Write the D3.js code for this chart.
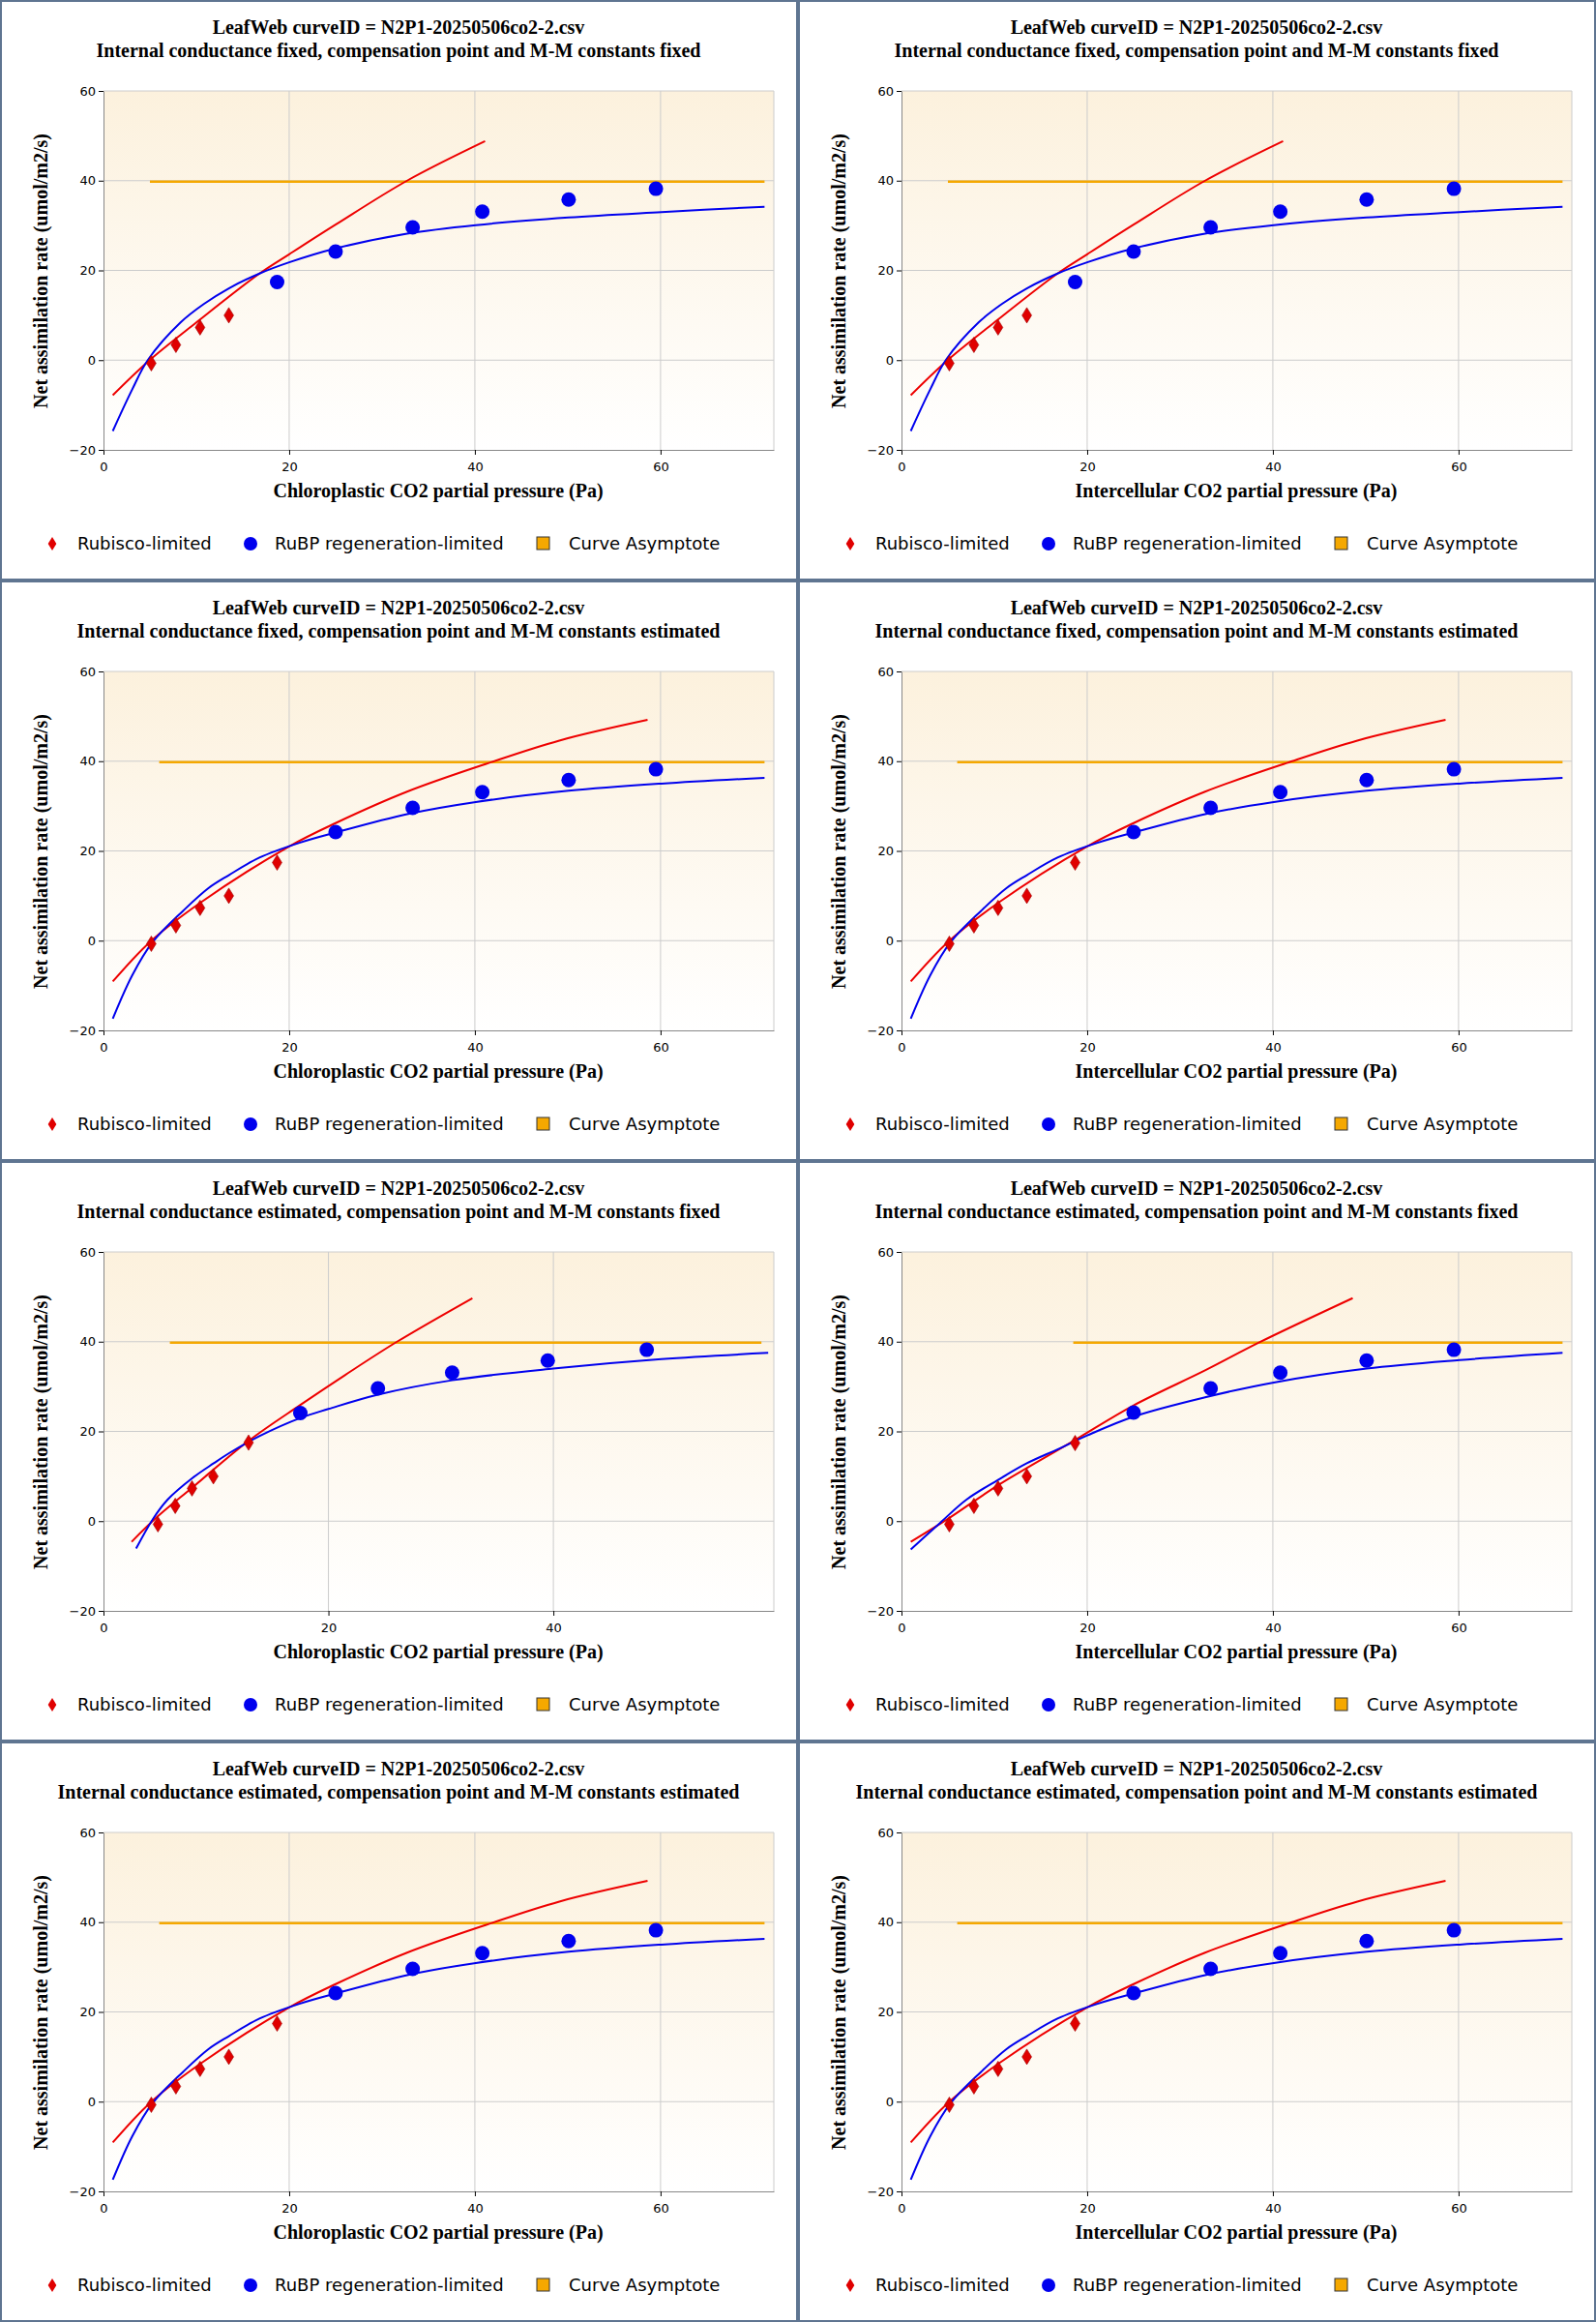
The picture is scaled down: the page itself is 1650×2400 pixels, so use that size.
<!DOCTYPE html>
<html><head><meta charset="utf-8">
<script src="https://cdn.jsdelivr.net/npm/d3@7"></script>
<style>body{margin:0;background:#fff}</style>
</head><body>
<script>
var PW = 825, PH = 600
var curveId = 'LeafWeb curveID = N2P1-20250506co2-2.csv'
var yTicks = [-20, 0, 20, 40, 60]
var legendLabels = ['Rubisco-limited', 'RuBP regeneration-limited', 'Curve Asymptote']

// dataset A: gm fixed, Gamma* and Kc/Ko fixed
var rubiscoA = [[5.15, -0.7], [7.8, 3.4], [10.4, 7.3], [13.5, 10.0]]
var rubpA = [[18.7, 17.4], [25.0, 24.2], [33.3, 29.6], [40.8, 33.1], [50.1, 35.8], [59.5, 38.2]]
var redLineA = [[1.0, -7.8], [4.8, -0.3], [10, 8.4], [16.8, 19.3], [20, 23.6], [25, 30.2], [32.7, 40], [41.1, 48.8]]
var blueLineA = [[1.0, -15.8], [3.1, -6.5], [4.8, 0.1], [8.3, 8.4], [10.8, 12.5], [13.5, 16], [16.8, 19.3], [20, 21.8], [25, 24.9], [32.7, 28.2], [40.1, 30.1], [50.1, 31.8], [60.1, 33], [71.2, 34.2]]
var asymA = [5.0, 71.2, 39.8]

// dataset B: gm fixed, constants estimated
var rubiscoB = [[5.15, -0.7], [7.8, 3.4], [10.4, 7.3], [13.5, 10.0], [18.7, 17.4]]
var rubpB = [[25.0, 24.2], [33.3, 29.6], [40.8, 33.1], [50.1, 35.8], [59.5, 38.2]]
var redLineB = [[1.0, -9.1], [5, -0.3], [10.4, 8.4], [20, 21.0], [25, 26.2], [32.7, 33.2], [41.5, 39.6], [49.1, 44.6], [58.6, 49.2]]
var blueLineB = [[1.0, -17.4], [3.1, -7.7], [5.3, -0.3], [8.6, 6.7], [11.3, 11.7], [13.5, 14.6], [16.8, 18.5], [21.1, 21.8], [25, 24.1], [32.7, 28.2], [40.1, 30.9], [50.1, 33.4], [60.1, 35], [71.2, 36.3]]
var asymB = [6.0, 71.2, 39.8]

// dataset C: gm estimated, chloroplastic
var rubiscoC = [[4.84, -0.7], [6.38, 3.4], [7.87, 7.3], [9.77, 10.0], [12.9, 17.5]]
var rubpC = [[17.5, 24.1], [24.4, 29.6], [31.0, 33.1], [39.5, 35.8], [48.3, 38.2]]
var redLineC = [[2.5, -4.6], [4.8, 1.0], [7.9, 7.5], [12.9, 17.9], [17.5, 25.9], [21.5, 32.6], [26.1, 40], [32.8, 49.7]]
var blueLineC = [[2.9, -6.1], [4.4, 0.5], [5.7, 4.8], [7.9, 9.6], [9.8, 12.9], [11.2, 15.2], [13.9, 19.0], [17.5, 23], [20, 25.0], [24.4, 28.2], [31, 31.4], [40, 34], [49.6, 36.1], [59.1, 37.5]]
var asymC = [5.9, 58.5, 39.8]

// dataset D: gm estimated, intercellular
var rubiscoD = [[5.15, -0.7], [7.8, 3.4], [10.4, 7.3], [13.5, 10.0], [18.7, 17.4]]
var rubpD = [[25.0, 24.2], [33.3, 29.6], [40.8, 33.1], [50.1, 35.8], [59.5, 38.2]]
var redLineD = [[1.0, -4.6], [5, 0.5], [10.4, 8], [18.7, 18.1], [25, 25.8], [32.7, 33.6], [38.5, 39.8], [48.6, 49.7]]
var blueLineD = [[1.0, -6.3], [4.2, -0.3], [7, 4.8], [10.4, 9.2], [13.5, 12.9], [16.8, 16], [20, 19.1], [25, 23.3], [32.7, 27.6], [40.1, 30.9], [50.1, 34], [60.1, 35.9], [71.2, 37.5]]
var asymD = [18.5, 71.2, 39.8]

var sets = {
  A: {rub: rubiscoA, rbp: rubpA, red: redLineA, blue: blueLineA, asym: asymA, xmax: 72.2, xticks: [0, 20, 40, 60]},
  B: {rub: rubiscoB, rbp: rubpB, red: redLineB, blue: blueLineB, asym: asymB, xmax: 72.2, xticks: [0, 20, 40, 60]},
  C: {rub: rubiscoC, rbp: rubpC, red: redLineC, blue: blueLineC, asym: asymC, xmax: 59.6, xticks: [0, 20, 40]},
  D: {rub: rubiscoD, rbp: rubpD, red: redLineD, blue: blueLineD, asym: asymD, xmax: 72.2, xticks: [0, 20, 40, 60]}
}

var panels = [
  {set: 'A', sub: 'Internal conductance fixed, compensation point and M-M constants fixed', xl: 'Chloroplastic CO2 partial pressure (Pa)'},
  {set: 'A', sub: 'Internal conductance fixed, compensation point and M-M constants fixed', xl: 'Intercellular CO2 partial pressure (Pa)'},
  {set: 'B', sub: 'Internal conductance fixed, compensation point and M-M constants estimated', xl: 'Chloroplastic CO2 partial pressure (Pa)'},
  {set: 'B', sub: 'Internal conductance fixed, compensation point and M-M constants estimated', xl: 'Intercellular CO2 partial pressure (Pa)'},
  {set: 'C', sub: 'Internal conductance estimated, compensation point and M-M constants fixed', xl: 'Chloroplastic CO2 partial pressure (Pa)'},
  {set: 'D', sub: 'Internal conductance estimated, compensation point and M-M constants fixed', xl: 'Intercellular CO2 partial pressure (Pa)'},
  {set: 'B', sub: 'Internal conductance estimated, compensation point and M-M constants estimated', xl: 'Chloroplastic CO2 partial pressure (Pa)'},
  {set: 'B', sub: 'Internal conductance estimated, compensation point and M-M constants estimated', xl: 'Intercellular CO2 partial pressure (Pa)'}
]

var m = {left: 107, right: 25, top: 94, bottom: 135}
var serif = "'Liberation Serif', 'DejaVu Serif', serif"
var sans = "'DejaVu Sans', Verdana, sans-serif"

var svg = d3.select('body').append('svg')
    .attr('width', PW * 2).attr('height', PH * 4)

var grad = svg.append('defs').append('linearGradient')
    .attr('id', 'bg').attr('x1', 0).attr('y1', 0).attr('x2', 0).attr('y2', 1)
grad.append('stop').attr('offset', '0%').attr('stop-color', '#fcf1dd')
grad.append('stop').attr('offset', '100%').attr('stop-color', '#ffffff')

// narrow diamond, like the original marker
var diamond = s => 'M0,' + (-s) + 'L' + (s * 0.62) + ',0L0,' + s + 'L' + (-s * 0.62) + ',0Z'

panels.forEach(function(p, i) {
    var d = sets[p.set]
    var g = svg.append('g')
        .attr('transform', 'translate(' + (i % 2) * PW + ',' + Math.floor(i / 2) * PH + ')')

    var x = d3.scaleLinear().domain([0, d.xmax]).range([m.left, PW - m.right])
    var y = d3.scaleLinear().domain([-20, 60]).range([PH - m.bottom, m.top])

    g.append('rect').attr('x', m.left).attr('y', m.top)
        .attr('width', PW - m.right - m.left).attr('height', PH - m.bottom - m.top)
        .attr('fill', 'url(#bg)')

    // grid
    g.append('g').selectAll('line').data(d.xticks.slice(1)).enter().append('line')
        .attr('x1', v => x(v)).attr('x2', v => x(v)).attr('y1', m.top).attr('y2', PH - m.bottom)
        .attr('stroke', '#cccccc')
    g.append('g').selectAll('line').data(yTicks.slice(1)).enter().append('line')
        .attr('x1', m.left).attr('x2', PW - m.right).attr('y1', v => y(v)).attr('y2', v => y(v))
        .attr('stroke', '#cccccc')
    g.append('line').attr('x1', PW - m.right).attr('x2', PW - m.right)
        .attr('y1', m.top).attr('y2', PH - m.bottom).attr('stroke', '#cccccc')

    // axes
    g.append('g').attr('transform', 'translate(0,' + (PH - m.bottom) + ')')
        .call(d3.axisBottom(x).tickValues(d.xticks).tickSize(5).tickSizeOuter(0))
        .call(a => a.select('.domain').attr('stroke', '#888'))
        .call(a => a.selectAll('text').attr('font-family', sans).attr('font-size', 13).attr('dy', '1.1em'))
    g.append('g').attr('transform', 'translate(' + m.left + ',0)')
        .call(d3.axisLeft(y).tickValues(yTicks).tickSize(5).tickSizeOuter(0))
        .call(a => a.select('.domain').attr('stroke', '#888'))
        .call(a => a.selectAll('text').attr('font-family', sans).attr('font-size', 13))

    // asymptote
    g.append('line').attr('x1', x(d.asym[0])).attr('x2', x(d.asym[1]))
        .attr('y1', y(d.asym[2])).attr('y2', y(d.asym[2]))
        .attr('stroke', '#f5a800').attr('stroke-width', 2.5)

    var line = d3.line().x(v => x(v[0])).y(v => y(v[1])).curve(d3.curveCatmullRom.alpha(0.5))
    g.append('path').attr('d', line(d.red)).attr('fill', 'none').attr('stroke', '#ee0000').attr('stroke-width', 2)
    g.append('path').attr('d', line(d.blue)).attr('fill', 'none').attr('stroke', '#0000ee').attr('stroke-width', 2)

    g.selectAll('.rub').data(d.rub).enter().append('path')
        .attr('d', diamond(8))
        .attr('transform', v => 'translate(' + x(v[0]) + ',' + y(v[1]) + ')')
        .attr('fill', '#e00000').attr('stroke', '#a00000').attr('stroke-width', 0.6)
    g.selectAll('.rbp').data(d.rbp).enter().append('circle')
        .attr('cx', v => x(v[0])).attr('cy', v => y(v[1])).attr('r', 7.5)
        .attr('fill', '#0000ee')

    // titles
    g.append('text').attr('x', 412).attr('y', 35).attr('text-anchor', 'middle')
        .attr('font-family', serif).attr('font-weight', 'bold').attr('font-size', 20).text(curveId)
    g.append('text').attr('x', 412).attr('y', 59).attr('text-anchor', 'middle')
        .attr('font-family', serif).attr('font-weight', 'bold').attr('font-size', 20).text(p.sub)
    g.append('text').attr('x', 453).attr('y', 514).attr('text-anchor', 'middle')
        .attr('font-family', serif).attr('font-weight', 'bold').attr('font-size', 20).text(p.xl)
    g.append('text').attr('transform', 'translate(49,' + 280 + ') rotate(-90)').attr('text-anchor', 'middle')
        .attr('font-family', serif).attr('font-weight', 'bold').attr('font-size', 20)
        .text('Net assimilation rate (umol/m2/s)')

    // legend
    var lg = g.append('g').attr('transform', 'translate(0,562)')
    lg.append('path').attr('d', diamond(7)).attr('transform', 'translate(54,0)').attr('fill', '#e00000')
    lg.append('circle').attr('cx', 259).attr('cy', 0).attr('r', 7).attr('fill', '#0000ee')
    lg.append('rect').attr('x', 555).attr('y', -7).attr('width', 13).attr('height', 13)
        .attr('fill', '#f5a800').attr('stroke', '#333').attr('stroke-width', 1)
    lg.selectAll('text').data(legendLabels).enter().append('text')
        .attr('x', (t, k) => [80, 284, 588][k]).attr('y', 6)
        .attr('font-family', sans).attr('font-size', 18).text(t => t)

    g.append('rect').attr('x', 0).attr('y', 0).attr('width', PW).attr('height', PH)
        .attr('fill', 'none').attr('stroke', '#5f7591').attr('stroke-width', 4)
})
</script>
</body></html>
